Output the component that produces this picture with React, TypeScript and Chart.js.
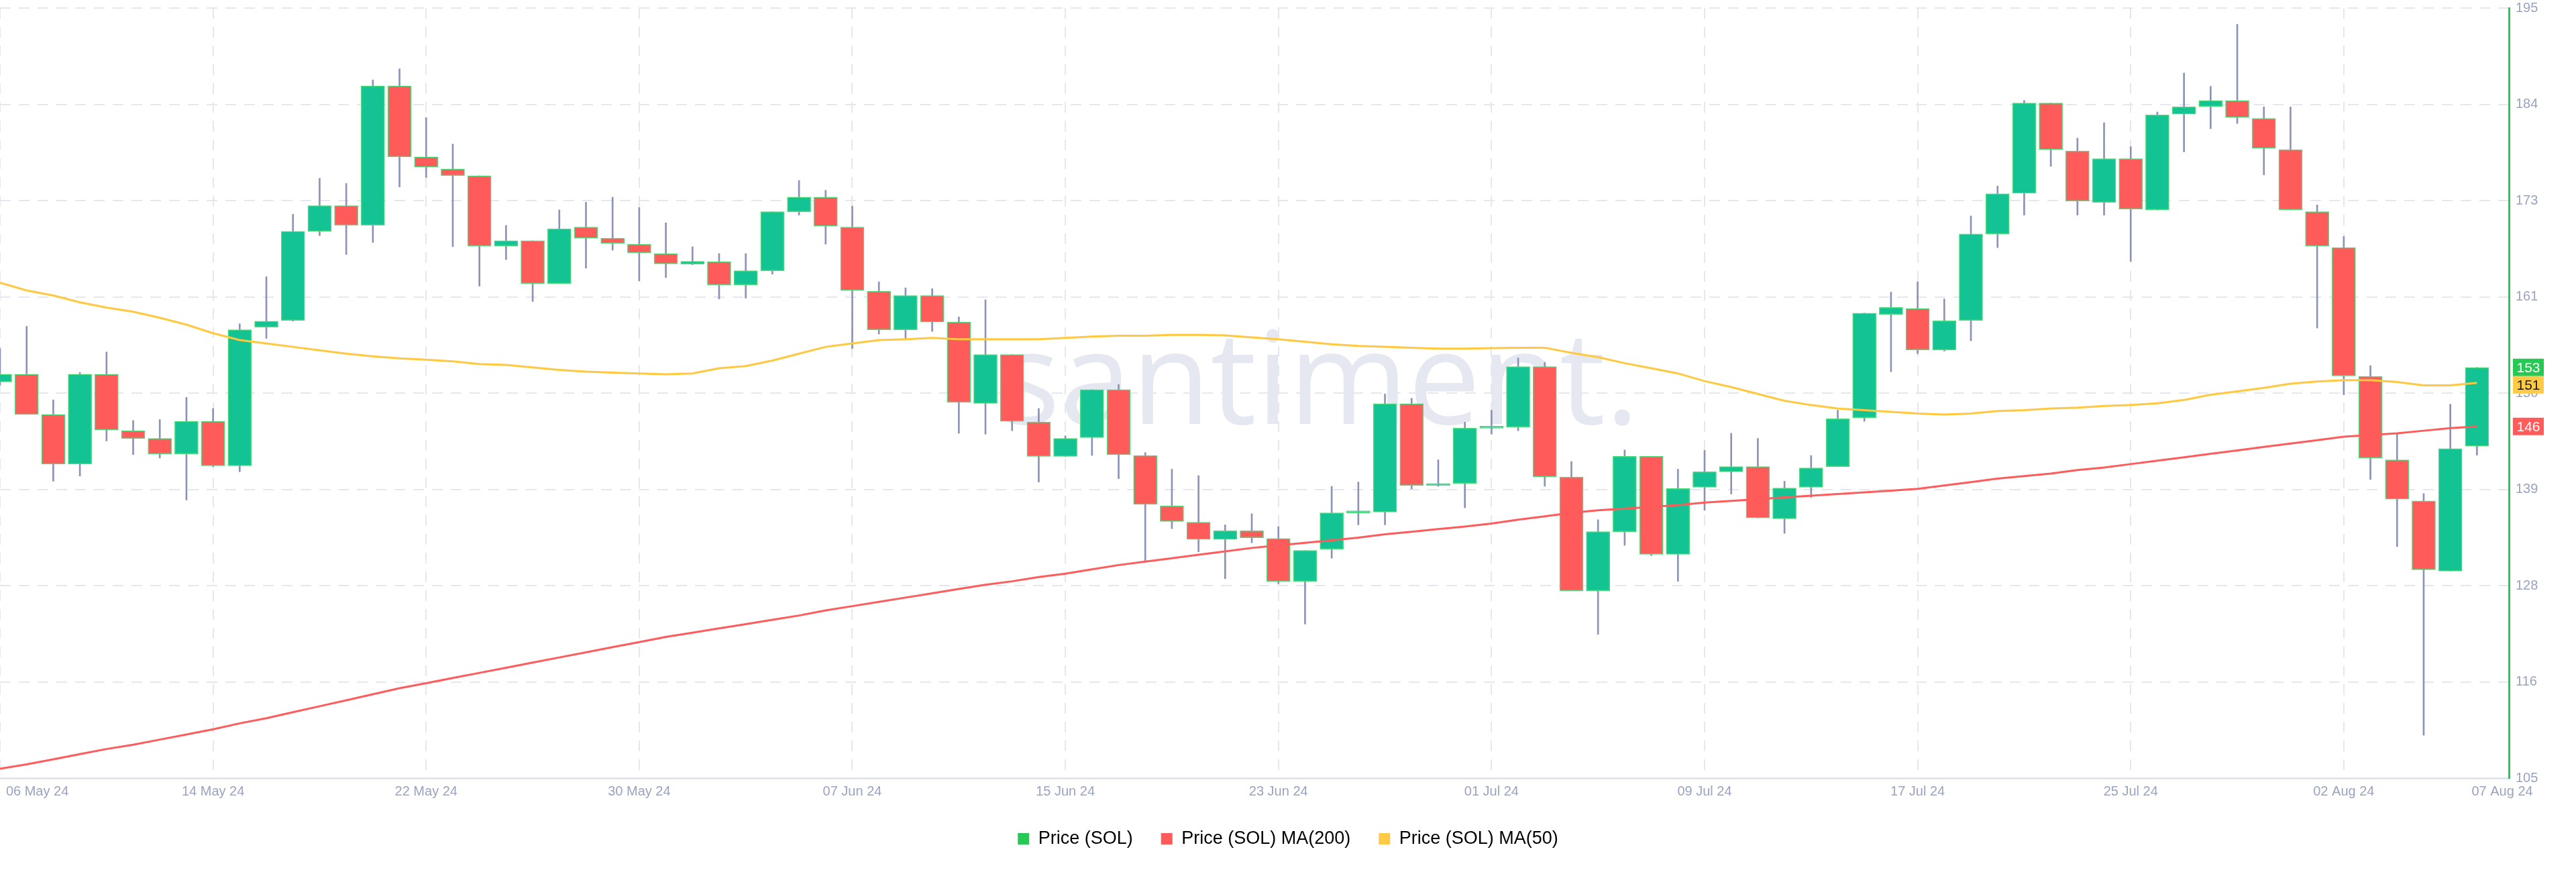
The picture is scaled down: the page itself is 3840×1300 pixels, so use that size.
import React, { useEffect, useRef } from "react";
import { Chart, registerables } from "chart.js";

Chart.register(...registerables);

// ---- data (day index 0 = 06 May 24) ----
const opens = [
  151.3, 152.2, 147.5, 141.7, 152.2, 145.6, 144.7, 142.9, 146.7, 141.5,
  157.7, 158.5, 168.9, 171.9, 169.6, 185.9, 177.6, 176.2, 175.4, 167.2,
  167.8, 162.8, 169.4, 168.1, 167.4, 166.3, 165.05, 165.35, 162.65, 164.3,
  171.2, 172.9, 169.4, 161.9, 157.4, 161.4, 158.3, 148.8, 154.5, 146.6,
  142.6, 144.8, 150.4, 142.7, 136.8, 134.9, 132.9, 133.9, 133.0, 128.0,
  131.75, 136.0, 136.1, 148.75, 139.2, 139.45, 145.9, 146.0, 153.1, 140.2,
  126.9, 133.8, 142.6, 131.15, 139.0, 140.8, 141.4, 135.3, 139.0, 141.4,
  147.1, 159.2, 159.9, 155.05, 158.5, 168.6, 173.35, 183.9, 178.3, 172.3,
  177.4, 171.4, 182.6, 183.5, 184.2, 182.1, 178.45, 171.2, 167.0, 151.95,
  142.2, 137.4, 129.2, 143.8,
];
const highs = [
  155.2, 157.8, 149.2, 152.4, 154.8, 146.8, 146.9, 149.5, 148.2, 158.1,
  163.6, 170.9, 175.1, 174.5, 186.6, 187.9, 182.2, 179.1, 175.4, 169.6,
  167.8, 171.4, 172.3, 172.9, 171.7, 169.9, 167.1, 166.3, 166.3, 171.2,
  174.85, 173.7, 171.85, 163.0, 162.3, 162.2, 158.9, 160.9, 154.5, 148.2,
  145.0, 150.4, 151.0, 143.05, 141.1, 140.35, 134.6, 135.9, 134.4, 131.6,
  139.1, 139.6, 149.9, 149.4, 142.2, 146.6, 148.0, 154.1, 153.6, 142.0,
  135.2, 143.35, 142.6, 141.1, 143.3, 145.3, 144.7, 139.7, 142.7, 148.0,
  159.35, 161.8, 163.0, 161.0, 170.7, 174.2, 184.2, 183.9, 179.8, 181.6,
  178.8, 182.85, 187.4, 185.85, 193.1, 183.45, 183.45, 172.0, 168.3, 153.2,
  145.2, 138.25, 148.7, 153.0,
];
const lows = [
  150.9, 147.5, 139.7, 140.3, 144.4, 142.8, 142.4, 137.5, 141.4, 140.8,
  156.4, 158.4, 168.4, 166.2, 167.6, 174.1, 175.2, 167.1, 162.5, 165.6,
  160.7, 162.8, 164.6, 166.7, 163.1, 163.5, 165.0, 161.0, 161.1, 163.9,
  170.8, 167.4, 155.2, 156.9, 156.3, 157.2, 145.3, 145.2, 145.6, 139.6,
  142.6, 142.7, 140.0, 130.4, 134.15, 131.45, 128.3, 132.5, 127.7, 123.0,
  130.7, 134.6, 134.6, 138.8, 139.1, 136.6, 145.2, 145.6, 139.1, 126.9,
  121.8, 132.2, 131.0, 128.0, 136.3, 138.2, 135.4, 133.6, 137.8, 141.4,
  146.7, 152.5, 154.6, 154.9, 156.1, 167.0, 170.8, 176.5, 170.8, 170.8,
  165.4, 171.4, 178.2, 180.9, 181.5, 175.5, 171.4, 157.6, 149.8, 139.9,
  132.05, 110.0, 129.2, 142.75,
];
const closes = [
  152.2, 147.5, 141.7, 152.2, 145.7, 144.7, 142.9, 146.7, 141.5, 157.4,
  158.4, 168.9, 171.9, 169.6, 185.9, 177.6, 176.4, 175.4, 167.2, 167.8,
  162.8, 169.2, 168.1, 167.5, 166.4, 165.1, 165.4, 162.65, 164.3, 171.2,
  172.9, 169.5, 162.0, 157.4, 161.4, 158.3, 148.9, 154.5, 146.7, 142.6,
  144.7, 150.4, 142.8, 137.0, 135.0, 132.9, 133.9, 133.1, 128.0, 131.6,
  136.0, 136.1, 148.75, 139.2, 139.3, 145.9, 146.1, 153.1, 140.2, 126.9,
  133.8, 142.6, 131.15, 138.85, 140.8, 141.4, 135.4, 138.9, 141.25, 147.0,
  159.35, 160.0, 155.05, 158.45, 168.6, 173.3, 183.9, 178.45, 172.45, 177.4,
  171.5, 182.5, 183.45, 184.2, 182.2, 178.6, 171.4, 167.2, 152.0, 142.4,
  137.6, 129.35, 143.5, 153.0,
];
const ma200 = [
  106.1, 106.6, 107.2, 107.8, 108.4, 108.9, 109.5, 110.1, 110.7, 111.4,
  112.0, 112.7, 113.4, 114.1, 114.8, 115.5, 116.1, 116.7, 117.3, 117.9,
  118.5, 119.1, 119.7, 120.3, 120.9, 121.5, 122.0, 122.5, 123.0, 123.5,
  124.0, 124.6, 125.1, 125.6, 126.1, 126.6, 127.1, 127.6, 128.0, 128.5,
  128.9, 129.4, 129.9, 130.3, 130.7, 131.1, 131.5, 131.9, 132.2, 132.5,
  132.8, 133.1, 133.5, 133.8, 134.1, 134.4, 134.75, 135.2, 135.6, 136.0,
  136.3, 136.5, 136.7, 136.9, 137.2, 137.4, 137.6, 137.8, 138.0, 138.2,
  138.4, 138.6, 138.8, 139.2, 139.6, 140.0, 140.3, 140.6, 141.0, 141.3,
  141.7, 142.1, 142.5, 142.9, 143.3, 143.7, 144.1, 144.5, 144.9, 145.1,
  145.3, 145.6, 145.9, 146.1,
];
const ma50 = [
  162.9, 162.0, 161.4, 160.6, 160.0, 159.5, 158.8, 158.0, 157.0, 156.2,
  155.8, 155.4, 155.0, 154.6, 154.3, 154.05, 153.9, 153.7, 153.4, 153.3,
  153.0, 152.7, 152.5, 152.4, 152.3, 152.2, 152.3, 152.9, 153.15, 153.8,
  154.6, 155.4, 155.8, 156.2, 156.3, 156.45, 156.3, 156.3, 156.3, 156.3,
  156.45, 156.6, 156.7, 156.7, 156.8, 156.8, 156.75, 156.5, 156.3, 156.0,
  155.7, 155.5, 155.4, 155.3, 155.2, 155.2, 155.25, 155.3, 155.3, 154.7,
  154.2, 153.5, 152.9, 152.3, 151.4, 150.7, 149.9, 149.1, 148.6, 148.2,
  148.0, 147.8, 147.6, 147.5, 147.6, 147.9, 148.0, 148.2, 148.3, 148.5,
  148.6, 148.8, 149.2, 149.8, 150.2, 150.6, 151.1, 151.35, 151.5, 151.5,
  151.3, 150.9, 150.9, 151.2,
];

const gridDays = [0, 8, 16, 24, 32, 40, 48, 56, 64, 72, 80, 88];
const labelDays = [1.4, 8, 16, 24, 32, 40, 48, 56, 64, 72, 80, 88, 93.95];
const labelTexts = [
  "06 May 24", "14 May 24", "22 May 24", "30 May 24", "07 Jun 24", "15 Jun 24",
  "23 Jun 24", "01 Jul 24", "09 Jul 24", "17 Jul 24", "25 Jul 24", "02 Aug 24", "07 Aug 24",
];
const yTicks = [105, 116.25, 127.5, 138.75, 150, 161.25, 172.5, 183.75, 195];
const legendNames = ["Price (SOL)", "Price (SOL) MA(200)", "Price (SOL) MA(50)"];

const X_MIN = 0;
const X_MAX = 94.2;
const Y_MIN = 105;
const Y_MAX = 195;

const UP = "#14c393";
const DOWN = "#ff5b5b";
const WICK = "#8b93b6";
const BODY_EDGE = "#4cd97a";
const MA200_COLOR = "#ff5b5b";
const MA50_COLOR = "#ffc83f";
const PRICE_LEGEND = "#26c953";
const AXIS_GREEN = "#26c953";
const GRID = "#e4e7f0";
const TICK_COLOR = "#9aa3bf";
const FONT = '"Liberation Sans", Arial, sans-serif';

export default function App() {
  const ref = useRef<HTMLCanvasElement | null>(null);

  useEffect(() => {
    if (!ref.current) return;
    const days = opens.map((_, i) => i);
    const bodyColors = days.map((i) => (closes[i] >= opens[i] ? UP : DOWN));

    const watermark = {
      id: "watermark",
      beforeDatasetsDraw(chart: any) {
        const { ctx, chartArea } = chart;
        ctx.save();
        ctx.font = '400 192px "Open Sans", sans-serif';
        ctx.fillStyle = "#e6e8f1";
        ctx.textAlign = "left";
        ctx.textBaseline = "alphabetic";
        ctx.fillText(
          "santiment.",
          chartArea.left + chartArea.width * 0.398,
          chartArea.top + chartArea.height * 0.54
        );
        ctx.restore();
      },
    };

    const badges = {
      id: "badges",
      afterDraw(chart: any) {
        const { ctx, chartArea, scales } = chart;
        const ys = scales.y;
        const items = [
          { v: closes[closes.length - 1], bg: PRICE_LEGEND, fg: "#ffffff" },
          { v: ma50[ma50.length - 1], bg: "#ffcb47", fg: "#1b1b1b" },
          { v: ma200[ma200.length - 1], bg: MA200_COLOR, fg: "#ffffff" },
        ]
          .map((it) => ({ ...it, py: ys.getPixelForValue(it.v) }))
          .sort((a, b) => a.py - b.py);
        const h = 26;
        const w = 46;
        let prevBottom = -Infinity;
        ctx.save();
        for (const it of items) {
          let top = it.py - h / 2;
          if (top < prevBottom) top = prevBottom;
          prevBottom = top + h;
          ctx.fillStyle = it.bg;
          ctx.fillRect(chartArea.right + 6, top, w, h);
          ctx.fillStyle = it.fg;
          ctx.font = `21px ${FONT}`;
          ctx.textAlign = "center";
          ctx.textBaseline = "middle";
          ctx.fillText(String(Math.round(it.v)), chartArea.right + 6 + w / 2, top + h / 2 + 1);
        }
        ctx.restore();
      },
    };

    const chart = new Chart(ref.current, {
      type: "bar",
      data: {
        datasets: [
          {
            type: "line",
            label: legendNames[1],
            data: days.map((i) => ({ x: i, y: ma200[i] })),
            borderColor: MA200_COLOR,
            borderWidth: 3,
            pointRadius: 0,
            tension: 0,
            order: 0,
          } as any,
          {
            type: "line",
            label: legendNames[2],
            data: days.map((i) => ({ x: i, y: ma50[i] })),
            borderColor: MA50_COLOR,
            borderWidth: 3,
            pointRadius: 0,
            tension: 0,
            order: 0,
          } as any,
          {
            type: "bar",
            label: legendNames[0],
            data: days.map((i) => ({ x: i, y: [opens[i], closes[i]] })),
            backgroundColor: bodyColors,
            borderColor: BODY_EDGE,
            borderWidth: 1.5,
            borderSkipped: false,
            barThickness: 35,
            minBarLength: 3,
            grouped: false,
            order: 1,
          } as any,
          {
            type: "bar",
            label: "wick",
            data: days.map((i) => ({ x: i, y: [lows[i], highs[i]] })),
            backgroundColor: WICK,
            borderWidth: 0,
            barThickness: 2,
            grouped: false,
            order: 2,
          } as any,
        ],
      },
      options: {
        animation: false,
        responsive: true,
        maintainAspectRatio: false,
        devicePixelRatio: 1,
        events: [],
        layout: { padding: { top: 12, bottom: 26, left: 0, right: 0 } },
        scales: {
          x: {
            type: "linear",
            position: "bottom",
            min: X_MIN,
            max: X_MAX,
            offset: false,
            afterBuildTicks: (scale: any) => {
              scale.ticks = gridDays.map((v) => ({ value: v }));
            },
            afterFit: (scale: any) => {
              scale.height = 0;
              scale.paddingLeft = 0;
              scale.paddingRight = 0;
            },
            ticks: { display: false },
            grid: { color: GRID, lineWidth: 2, drawTicks: false, offset: false },
            border: { display: true, color: "#e1e5ef", width: 3, dash: [16, 12] },
          },
          x2: {
            type: "linear",
            position: "bottom",
            min: X_MIN,
            max: X_MAX,
            offset: false,
            afterBuildTicks: (scale: any) => {
              scale.ticks = labelDays.map((v) => ({ value: v }));
            },
            afterFit: (scale: any) => {
              scale.height = 35;
              scale.paddingLeft = 0;
              scale.paddingRight = 0;
            },
            ticks: {
              autoSkip: false,
              maxRotation: 0,
              padding: 8,
              color: TICK_COLOR,
              font: { family: FONT, size: 20 },
              callback: (_v: any, i: number) => labelTexts[i],
            },
            grid: { display: false, drawTicks: false },
            border: { display: false },
          },
          y: {
            type: "linear",
            position: "right",
            min: Y_MIN,
            max: Y_MAX,
            afterBuildTicks: (scale: any) => {
              scale.ticks = yTicks.map((v) => ({ value: v }));
            },
            afterFit: (scale: any) => {
              scale.width = 100;
              scale.paddingTop = 0;
              scale.paddingBottom = 0;
            },
            ticks: {
              padding: 10,
              color: TICK_COLOR,
              font: { family: FONT, size: 20 },
              callback: (v: any) => String(Math.round(Number(v))),
            },
            grid: { color: GRID, lineWidth: 2, drawTicks: false },
            border: { display: true, color: AXIS_GREEN, width: 3, dash: [16, 12] },
          },
        },
        plugins: {
          tooltip: { enabled: false },
          legend: {
            display: true,
            position: "bottom",
            labels: {
              boxWidth: 17,
              boxHeight: 17,
              padding: 42,
              color: "#1c2033",
              font: { family: FONT, size: 27 },
              generateLabels: () => [
                { text: legendNames[0], fillStyle: PRICE_LEGEND, strokeStyle: PRICE_LEGEND, lineWidth: 0, hidden: false, datasetIndex: 2 },
                { text: legendNames[1], fillStyle: MA200_COLOR, strokeStyle: MA200_COLOR, lineWidth: 0, hidden: false, datasetIndex: 0 },
                { text: legendNames[2], fillStyle: "#ffcb47", strokeStyle: "#ffcb47", lineWidth: 0, hidden: false, datasetIndex: 1 },
              ],
            },
          },
        },
      } as any,
      plugins: [watermark, badges],
    });

    return () => chart.destroy();
  }, []);

  return (
    <div
      style={{
        position: "absolute",
        left: 0,
        top: 0,
        width: 3840,
        height: 1300,
        background: "#ffffff",
      }}
    >
      <canvas ref={ref} />
    </div>
  );
}
